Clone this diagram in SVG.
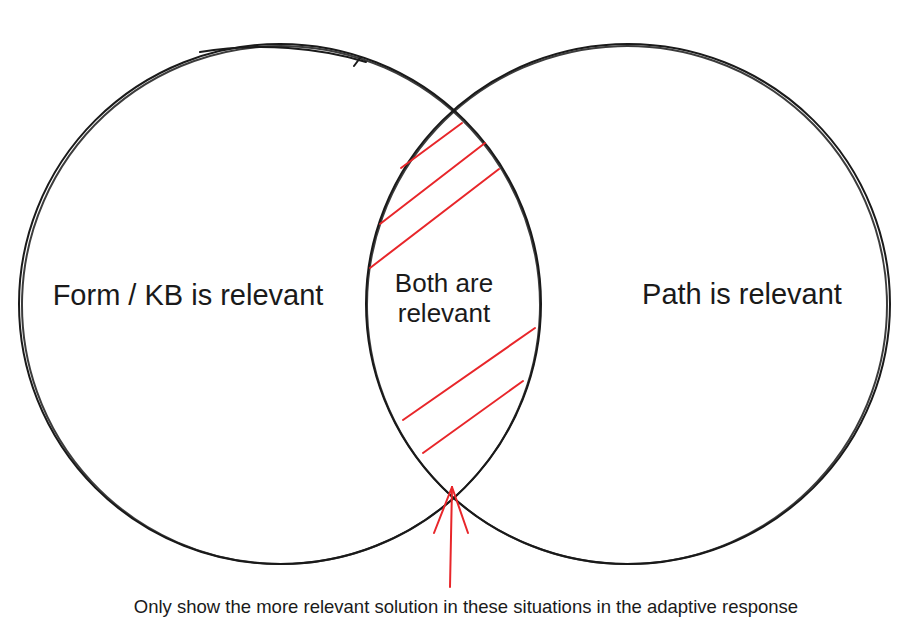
<svg xmlns="http://www.w3.org/2000/svg" width="910" height="638" viewBox="0 0 910 638">
<style>
.c{fill:none;stroke:#1a1a1a;stroke-width:2;stroke-linecap:round}
.r{fill:none;stroke:#e8262a;stroke-width:2;stroke-linecap:round}
.t{font-family:"Liberation Sans",Arial,sans-serif;fill:#1a1a1a;text-anchor:middle}
</style>
<rect width="910" height="638" fill="#fff"/>
<g id="left-circle">
<ellipse class="c" cx="280" cy="304" rx="261" ry="260"/>
<ellipse class="c" cx="281" cy="305" rx="259" ry="259" transform="rotate(2 281 305)" opacity="0.85"/>
<path class="c" d="M 200 52 C 260 42 320 48 366 62 M 360 58 L 354 66"/>
<text class="t" x="188" y="305" font-size="29">Form / KB is relevant</text>
</g>
<g id="right-circle">
<ellipse class="c" cx="628" cy="304" rx="262" ry="260"/>
<ellipse class="c" cx="627" cy="305" rx="260" ry="259" transform="rotate(-2 627 305)" opacity="0.85"/>
<text class="t" x="742" y="304" font-size="29">Path is relevant</text>
</g>
<g id="intersection">
<text class="t" x="444" y="292" font-size="26">Both are</text>
<text class="t" x="444" y="322" font-size="26">relevant</text>
<line class="r" x1="401" y1="168" x2="462" y2="123"/>
<line class="r" x1="380" y1="224" x2="485" y2="143"/>
<line class="r" x1="370" y1="268" x2="499" y2="169"/>
<line class="r" x1="403" y1="420" x2="535" y2="328"/>
<line class="r" x1="423" y1="453" x2="523" y2="381"/>
</g>
<g id="connectors">
<line class="r" x1="450" y1="587" x2="452" y2="487"/>
<line class="r" x1="434" y1="533" x2="452" y2="487"/>
<line class="r" x1="468" y1="533" x2="452" y2="487"/>
</g>
<g id="caption">
<text class="t" x="466" y="613" font-size="18.5">Only show the more relevant solution in these situations in the adaptive response</text>
</g>
</svg>
